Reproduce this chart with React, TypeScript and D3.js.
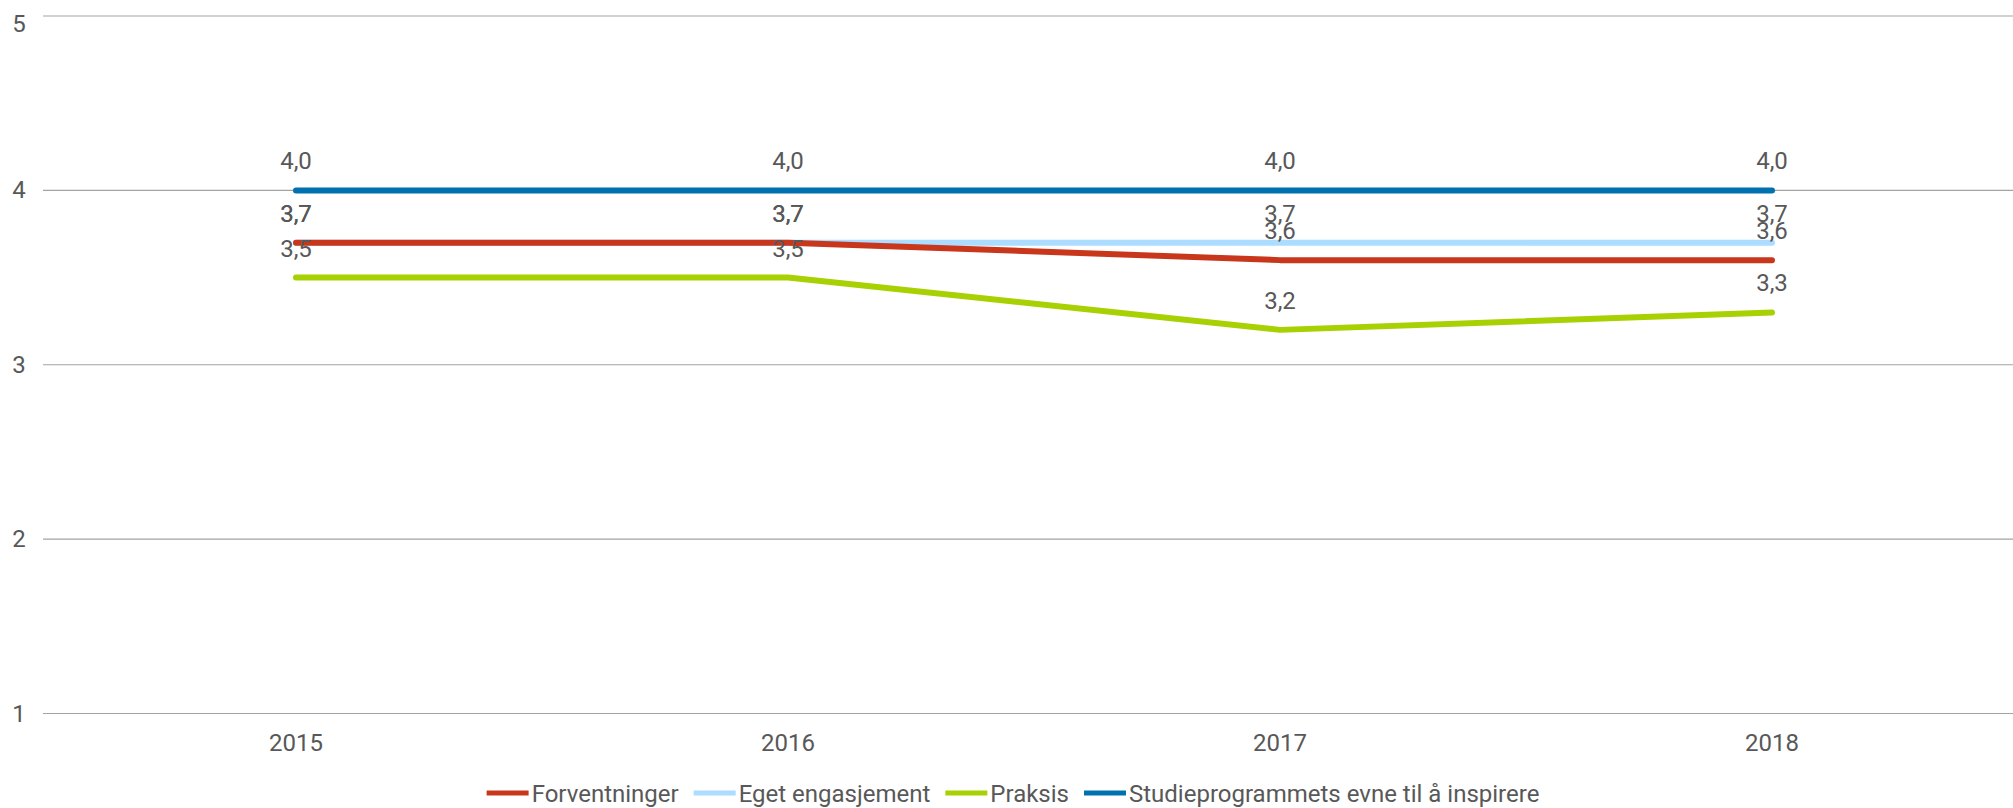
import React, { useEffect, useRef } from "react";
import * as d3 from "d3";

const years = ["2015", "2016", "2017", "2018"];
const forventninger = [3.7, 3.7, 3.6, 3.6];
const egetEngasjement = [3.7, 3.7, 3.7, 3.7];
const praksis = [3.5, 3.5, 3.2, 3.3];
const studieprogrammets = [4.0, 4.0, 4.0, 4.0];
const yTicks = [1, 2, 3, 4, 5];

const seriesNames = [
  "Forventninger",
  "Eget engasjement",
  "Praksis",
  "Studieprogrammets evne til å inspirere",
];
const seriesValues = [forventninger, egetEngasjement, praksis, studieprogrammets];
const seriesColors = ["#c8361b", "#acdcff", "#a8d103", "#0070ae"];
// draw order: light blue underneath red
const drawOrder = [1, 0, 2, 3];

const W = 2013;
const H = 808;
const TEXT = "#585858";
const FONT = "Roboto, 'Noto Sans', sans-serif";
const FS = 24;

export default function App() {
  const ref = useRef<SVGSVGElement | null>(null);

  useEffect(() => {
    const svg = d3.select(ref.current);
    svg.selectAll("*").remove();

    const x = d3.scaleBand<string>().domain(years).range([50, 2018]);
    const y = d3.scaleLinear().domain([1, 5]).range([713.5, 16]);
    const cx = (yr: string) => (x(yr) as number) + x.bandwidth() / 2;

    // gridlines
    const grid = svg.append("g");
    yTicks.forEach((t) => {
      grid
        .append("line")
        .attr("x1", 43)
        .attr("x2", W)
        .attr("y1", y(t))
        .attr("y2", y(t))
        .attr("stroke", "#a3a3a3")
        .attr("stroke-width", 1.2);
      grid
        .append("text")
        .attr("x", 19)
        .attr("y", Math.max(y(t) + 8, 32))
        .attr("text-anchor", "middle")
        .attr("font-size", FS)
        .attr("font-family", FONT)
        .attr("fill", TEXT)
        .text(String(t));
    });

    // x labels
    years.forEach((yr) => {
      svg
        .append("text")
        .attr("x", cx(yr))
        .attr("y", 751)
        .attr("text-anchor", "middle")
        .attr("font-size", FS)
        .attr("font-family", FONT)
        .attr("fill", TEXT)
        .text(yr);
    });

    // lines
    const line = d3
      .line<number>()
      .x((_, i) => cx(years[i]))
      .y((v) => y(v));

    drawOrder.forEach((si) => {
      svg
        .append("path")
        .attr("d", line(seriesValues[si]) as string)
        .attr("fill", "none")
        .attr("stroke", seriesColors[si])
        .attr("stroke-width", 6)
        .attr("stroke-linecap", "round")
        .attr("stroke-linejoin", "round");
    });

    // data labels
    seriesValues.forEach((vals) => {
      vals.forEach((v, i) => {
        svg
          .append("text")
          .attr("x", cx(years[i]))
          .attr("y", y(v) - 21)
          .attr("text-anchor", "middle")
          .attr("font-size", FS)
          .attr("font-family", FONT)
          .attr("fill", TEXT)
          .text(v.toFixed(1).replace(".", ","));
      });
    });

    // legend
    const lg = svg.append("g");
    const swatch = 42;
    const gapText = 3;
    const gapItem = 15;
    const items: { g: any; w: number }[] = [];
    seriesNames.forEach((name, i) => {
      const g = lg.append("g");
      g.append("line")
        .attr("x1", 0)
        .attr("x2", swatch)
        .attr("y1", 793)
        .attr("y2", 793)
        .attr("stroke", seriesColors[i])
        .attr("stroke-width", 5);
      const t = g
        .append("text")
        .attr("x", swatch + gapText)
        .attr("y", 802)
        .attr("font-size", FS)
        .attr("font-family", FONT)
        .attr("fill", TEXT)
        .text(name);
      const tw = (t.node() as SVGTextElement).getComputedTextLength();
      items.push({ g, w: swatch + gapText + tw });
    });
    const total =
      items.reduce((s, it) => s + it.w, 0) + gapItem * (items.length - 1);
    let pos = 1013 - total / 2;
    items.forEach((it) => {
      it.g.attr("transform", `translate(${pos},0)`);
      pos += it.w + gapItem;
    });
  }, []);

  return (
    <svg
      ref={ref}
      width={W}
      height={H}
      style={{ position: "absolute", left: 0, top: 0, background: "#fff" }}
    />
  );
}
